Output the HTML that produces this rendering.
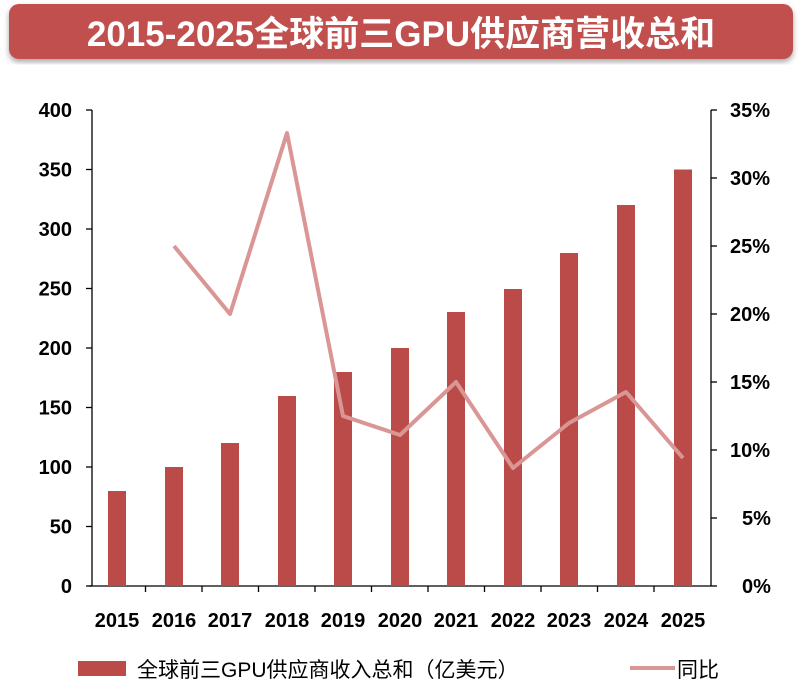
<!DOCTYPE html>
<html><head><meta charset="utf-8"><style>
body{margin:0;background:#fff;}
svg{display:block;font-family:"Liberation Sans","Noto Sans CJK SC",sans-serif;}
</style></head><body>
<svg width="800" height="699" viewBox="0 0 800 699">
<defs><filter id="sh"><feDropShadow dx="0" dy="3" stdDeviation="3" flood-color="#000" flood-opacity="0.35"/></filter></defs>
<rect x="9" y="4" width="784" height="55" rx="10" fill="#c0504d" filter="url(#sh)"/>
<text x="401" y="46" text-anchor="middle" font-size="35" font-weight="bold" fill="#fff">2015-2025全球前三GPU供应商营收总和</text>
<g stroke="#000" stroke-width="1.3" fill="none">
<line x1="92" y1="110" x2="92" y2="586"/>
<line x1="711" y1="110" x2="711" y2="586"/>
<line x1="89" y1="586" x2="711" y2="586"/>
</g>
<g stroke="#000" stroke-width="1.3">
<line x1="86" y1="110" x2="92" y2="110"/><line x1="86" y1="169.5" x2="92" y2="169.5"/><line x1="86" y1="229" x2="92" y2="229"/><line x1="86" y1="288.5" x2="92" y2="288.5"/><line x1="86" y1="348" x2="92" y2="348"/><line x1="86" y1="407.5" x2="92" y2="407.5"/><line x1="86" y1="467" x2="92" y2="467"/><line x1="86" y1="526.5" x2="92" y2="526.5"/><line x1="86" y1="586" x2="92" y2="586"/>
<line x1="711" y1="110" x2="717" y2="110"/><line x1="711" y1="178" x2="717" y2="178"/><line x1="711" y1="246" x2="717" y2="246"/><line x1="711" y1="314" x2="717" y2="314"/><line x1="711" y1="382" x2="717" y2="382"/><line x1="711" y1="450" x2="717" y2="450"/><line x1="711" y1="518" x2="717" y2="518"/><line x1="711" y1="586" x2="717" y2="586"/>
<line x1="145.5" y1="586" x2="145.5" y2="592"/><line x1="202" y1="586" x2="202" y2="592"/><line x1="258.5" y1="586" x2="258.5" y2="592"/><line x1="315" y1="586" x2="315" y2="592"/><line x1="371.5" y1="586" x2="371.5" y2="592"/><line x1="428" y1="586" x2="428" y2="592"/><line x1="484.5" y1="586" x2="484.5" y2="592"/><line x1="541" y1="586" x2="541" y2="592"/><line x1="597.5" y1="586" x2="597.5" y2="592"/><line x1="654" y1="586" x2="654" y2="592"/>
</g>
<g font-size="20" font-weight="bold" text-anchor="end" fill="#000">
<text x="72" y="117">400</text><text x="72" y="176.5">350</text><text x="72" y="236">300</text><text x="72" y="295.5">250</text><text x="72" y="355">200</text><text x="72" y="414.5">150</text><text x="72" y="474">100</text><text x="72" y="533.5">50</text><text x="72" y="593">0</text>
</g>
<g font-size="20" font-weight="bold" text-anchor="start" fill="#000">
<text x="730" y="117">35%</text><text x="730" y="185">30%</text><text x="730" y="253">25%</text><text x="730" y="321">20%</text><text x="730" y="389">15%</text><text x="730" y="457">10%</text><text x="742" y="525">5%</text><text x="742" y="593">0%</text>
</g>
<g fill="#bb4b48">
<rect x="108" y="491" width="18" height="95"/><rect x="165" y="467" width="18" height="119"/><rect x="221" y="443" width="18" height="143"/><rect x="278" y="396" width="18" height="190"/><rect x="334" y="372" width="18" height="214"/><rect x="391" y="348" width="18" height="238"/><rect x="447" y="312" width="18" height="274"/><rect x="504" y="289" width="18" height="297"/><rect x="560" y="253" width="18" height="333"/><rect x="617" y="205" width="18" height="381"/><rect x="674" y="169.5" width="18" height="416.5"/>
</g>
<polyline fill="none" stroke="#d99694" stroke-width="4" stroke-linejoin="round" points="174,246 230,314 287,133 343,416 400,435 456,382 513,468 569,423 626,392 683,458"/>
<g font-size="20" font-weight="bold" text-anchor="middle" fill="#000">
<text x="117" y="627">2015</text><text x="174" y="627">2016</text><text x="230" y="627">2017</text><text x="287" y="627">2018</text><text x="343" y="627">2019</text><text x="400" y="627">2020</text><text x="456" y="627">2021</text><text x="513" y="627">2022</text><text x="569" y="627">2023</text><text x="626" y="627">2024</text><text x="683" y="627">2025</text>
</g>
<rect x="78" y="661" width="48" height="15" fill="#bb4b48"/>
<text x="137" y="677" font-size="21" fill="#000">全球前三GPU供应商收入总和（亿美元）</text>
<line x1="630" y1="668" x2="675" y2="668" stroke="#d99694" stroke-width="4"/>
<text x="677" y="677" font-size="21" fill="#000">同比</text>
</svg>
</body></html>
